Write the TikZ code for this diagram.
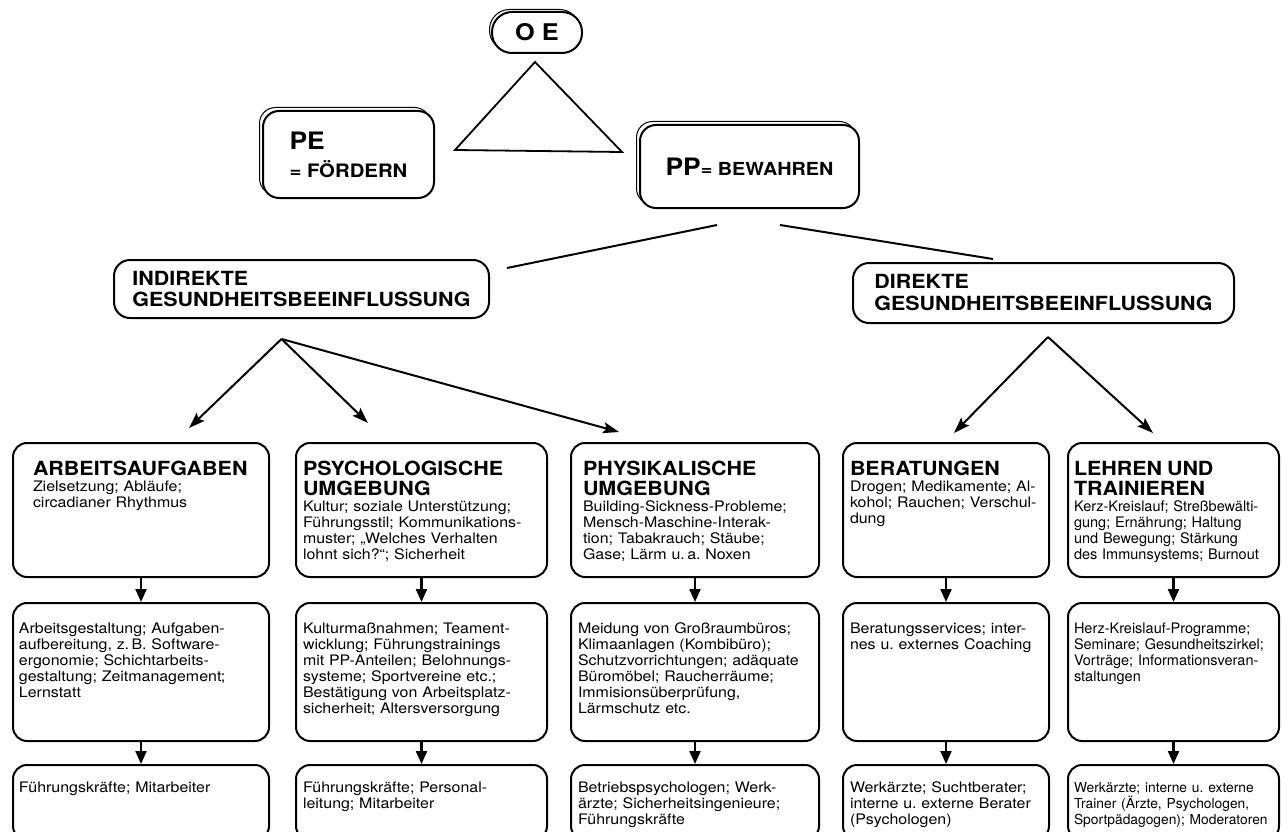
\documentclass[tikz,border=0pt]{standalone}
\usepackage{fontspec}
\setmainfont{TeX Gyre Heros}[FakeStretch=1.1]
\newfontfamily\narrowfont{TeX Gyre Heros}
\usetikzlibrary{arrows.meta}
\frenchspacing

\newcommand{\boxhead}[1]{{\fontsize{19.5}{20}\selectfont\bfseries #1\par}}

\tikzset{
  panel/.style={draw, fill=white, line width=2pt, rounded corners=16pt, align=left},
  panelshade/.style={draw, line width=1pt, rounded corners=16pt},
  cell/.style={draw, line width=2pt, rounded corners=14pt, anchor=north west, align=left,
    inner xsep=7pt, inner ysep=0pt, font=\fontsize{14.5}{16}\selectfont},
  row1/.style={text height=32pt, text depth=102pt},
  row2/.style={text height=30pt, text depth=108pt},
  row3/.style={text height=27pt, text depth=48pt},
  link/.style={line width=2pt},
  fork/.style={line width=2pt, -{Stealth[length=16pt, width=11pt, inset=3pt]}},
  feed/.style={line width=2.2pt, -{Triangle[length=13pt, width=11pt]}}
}

\begin{document}
\begin{tikzpicture}[x=1pt, y=-1pt]
  \path[use as bounding box, fill=white] (0,0) rectangle (1288,832);

  \node[panelshade, minimum width=90pt, minimum height=41pt, rounded corners=20pt] (oeshade) at (534.5,30) {};
  \node[panel, minimum width=90pt, minimum height=41pt, rounded corners=20pt, font=\fontsize{23}{23}\selectfont\bfseries] (oe) at (537,32.5) {O E};
  \draw[line width=1.8pt] (535,62) -- (455,150) -- (622,152) -- cycle;

  \node[panelshade, anchor=north west, minimum width=171pt, minimum height=87pt] (peshade) at (259,107) {};
  \node[panel, anchor=north west, minimum width=171pt, minimum height=87pt, font=\fontsize{18.5}{28}\selectfont\bfseries] (pe) at (262,110)
    {{\fontsize{24}{28}\selectfont PE}\\= FÖRDERN};
  \node[panelshade, anchor=north west, minimum width=219pt, minimum height=83pt] (ppshade) at (636,121) {};
  \node[panel, anchor=north west, minimum width=219pt, minimum height=83pt, font=\fontsize{18}{23}\selectfont\bfseries] (pp) at (639,124)
    {{\fontsize{24}{23}\selectfont PP}= BEWAHREN};

  \node[panel, anchor=north west, minimum width=375pt, minimum height=58pt, font=\fontsize{19.5}{21}\selectfont\bfseries] (ind) at (113,259)
    {INDIREKTE\\GESUNDHEITSBEEINFLUSSUNG};
  \node[panel, anchor=north west, minimum width=381pt, minimum height=60pt, font=\fontsize{19.5}{22}\selectfont\bfseries] (dir) at (852,262)
    {DIREKTE\\GESUNDHEITSBEEINFLUSSUNG};

  \draw[link] ([xshift=78pt,yshift=-16pt]pp.south west) -- ([xshift=17pt,yshift=-9pt]ind.north east);
  \draw[link] ([xshift=141pt,yshift=-16pt]pp.south west) -- ([xshift=141pt,yshift=3pt]dir.north west);

  \node[cell, row1, inner xsep=20pt, text width=216pt] (arb) at (12,442)
    {\boxhead{ARBEITSAUFGABEN}Zielsetzung; Abläufe;\\circadianer Rhythmus};
  \node[cell, row1, text width=237pt] (psy) at (295,442)
    {\boxhead{PSYCHOLOGISCHE\\UMGEBUNG}Kultur; soziale Unterstützung;\\Führungsstil; Kommunikations-\\muster; „Welches Verhalten\\lohnt sich?“; Sicherheit};
  \node[cell, row1, inner xsep=12pt, text width=224pt] (phy) at (570,442)
    {\boxhead{PHYSIKALISCHE\\UMGEBUNG}Building-Sickness-Probleme;\\Mensch-Maschine-Interak-\\tion; Tabakrauch; Stäube;\\Gase; Lärm u.\,a. Noxen};
  \node[cell, row1, text width=192pt] (ber) at (842,442)
    {\boxhead{BERATUNGEN}Drogen; Medikamente; Al-\\kohol; Rauchen; Verschul-\\dung};
  \node[cell, row1, inner xsep=6pt, text width=199pt] (leh) at (1067,442)
    {\boxhead{LEHREN UND\\TRAINIEREN}\narrowfont Kerz-Kreislauf; Streßbewälti-\\gung; Ernährung; Haltung\\und Bewegung; Stärkung\\des Immunsystems; Burnout};

  \node[cell, row2, inner xsep=6pt, text width=244pt] (arb2) at (12,602)
    {Arbeitsgestaltung; Aufgaben-\\aufbereitung, z.\,B. Software-\\ergonomie; Schichtarbeits-\\gestaltung; Zeitmanagement;\\Lernstatt};
  \node[cell, row2, text width=237pt] (psy2) at (295,602)
    {Kulturmaßnahmen; Teament-\\wicklung; Führungstrainings\\mit PP-Anteilen; Belohnungs-\\systeme; Sportvereine etc.;\\Bestätigung von Arbeitsplatz-\\sicherheit; Altersversorgung};
  \node[cell, row2, text width=234pt] (phy2) at (570,602)
    {Meidung von Großraumbüros;\\Klimaanlagen (Kombibüro);\\Schutzvorrichtungen; adäquate\\Büromöbel; Raucherräume;\\Immisionsüberprüfung,\\Lärmschutz etc.};
  \node[cell, row2, text width=192pt] (ber2) at (842,602)
    {Beratungsservices; inter-\\nes u. externes Coaching};
  \node[cell, row2, inner xsep=6pt, text width=199pt] (leh2) at (1067,602)
    {\narrowfont Herz-Kreislauf-Programme;\\Seminare; Gesundheitszirkel;\\Vorträge; Informationsveran-\\staltungen};

  \node[cell, row3, inner xsep=6pt, text width=244pt] (arb3) at (12,764)
    {Führungskräfte; Mitarbeiter};
  \node[cell, row3, text width=237pt] (psy3) at (295,764)
    {Führungskräfte; Personal-\\leitung; Mitarbeiter};
  \node[cell, row3, text width=234pt] (phy3) at (570,764)
    {Betriebspsychologen; Werk-\\ärzte; Sicherheitsingenieure;\\Führungskräfte};
  \node[cell, row3, text width=192pt] (ber3) at (842,764)
    {Werkärzte; Suchtberater;\\interne u. externe Berater\\(Psychologen)};
  \node[cell, row3, inner xsep=6pt, text width=199pt] (leh3) at (1067,764)
    {\narrowfont\fontsize{13.8}{16}\selectfont Werkärzte; interne u. externe\\Trainer (Ärzte, Psychologen,\\Sportpädagogen); Moderatoren};

  \coordinate (indfork) at ([xshift=-20pt,yshift=-20pt]ind.south);
  \coordinate (dirfork) at ([xshift=4.5pt,yshift=-13pt]dir.south);
  \draw[fork] (indfork) -- ([xshift=48pt,yshift=14pt]arb.north);
  \draw[fork] (indfork) -- ([xshift=-53.5pt,yshift=19pt]psy.north);
  \draw[fork] (indfork) -- ([xshift=-76pt,yshift=10pt]phy.north);
  \draw[fork] (dirfork) -- ([xshift=8pt,yshift=9pt]ber.north);
  \draw[fork] (dirfork) -- ([xshift=-20.5pt,yshift=9pt]leh.north);

  \draw[feed] (arb.south) -- (arb2.north);
  \draw[feed] (psy.south) -- (psy2.north);
  \draw[feed] (phy.south) -- (phy2.north);
  \draw[feed] (ber.south) -- (ber2.north);
  \draw[feed] (leh.south) -- (leh2.north);
  \draw[feed] (arb2.south) -- (arb3.north);
  \draw[feed] (psy2.south) -- (psy3.north);
  \draw[feed] (phy2.south) -- (phy3.north);
  \draw[feed] (ber2.south) -- (ber3.north);
  \draw[feed] (leh2.south) -- (leh3.north);
\end{tikzpicture}
\end{document}
